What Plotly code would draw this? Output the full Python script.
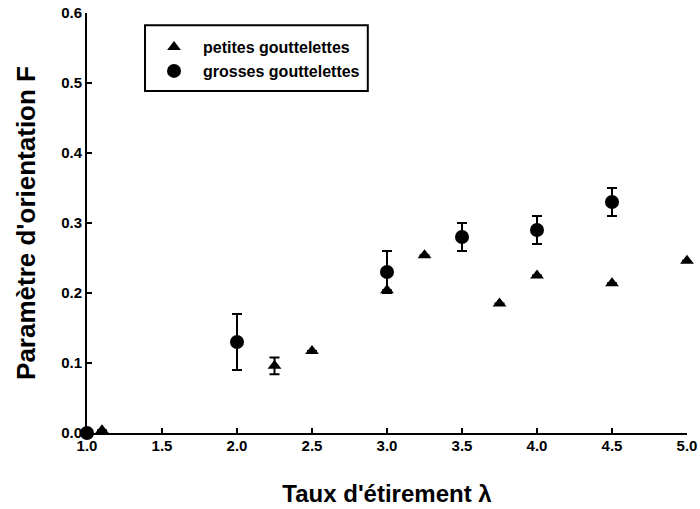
import plotly.graph_objects as go

# petites gouttelettes (triangles)
x_small = [1.1, 2.25, 2.5, 3.0, 3.25, 3.75, 4.0, 4.5, 5.0]
y_small = [0.004, 0.096, 0.117, 0.204, 0.254, 0.185, 0.225, 0.214, 0.246]
err_small = [0, 0.012, 0, 0, 0, 0, 0, 0, 0]

# grosses gouttelettes (circles)
x_big = [1.0, 2.0, 3.0, 3.5, 4.0, 4.5]
y_big = [0.0, 0.13, 0.23, 0.28, 0.29, 0.33]
err_big = [0, 0.04, 0.03, 0.02, 0.02, 0.02]

x_ticks = [1.0, 1.5, 2.0, 2.5, 3.0, 3.5, 4.0, 4.5, 5.0]
y_ticks = [0.0, 0.1, 0.2, 0.3, 0.4, 0.5, 0.6]

FONT = "Liberation Sans"

fig = go.Figure()
fig.add_trace(go.Scatter(
    x=x_small, y=y_small, mode="markers", name="petites gouttelettes",
    marker=dict(symbol="triangle-up", size=12, color="black"),
    error_y=dict(type="data", array=err_small, color="black", thickness=2, width=5),
    cliponaxis=False,
))
fig.add_trace(go.Scatter(
    x=x_big, y=y_big, mode="markers", name="grosses gouttelettes",
    marker=dict(symbol="circle", size=14, color="black"),
    error_y=dict(type="data", array=err_big, color="black", thickness=2, width=5),
    cliponaxis=False,
))

# legend frame
fig.add_shape(type="rect", xref="paper", yref="paper",
              x0=0.0967, x1=0.468, y0=0.814, y1=0.971,
              line=dict(color="black", width=2), fillcolor="rgba(0,0,0,0)")

fig.update_layout(
    width=700, height=509,
    margin=dict(l=87, r=13, t=13, b=76),
    plot_bgcolor="white", paper_bgcolor="white",
    font=dict(family=FONT, color="black"),
    showlegend=True,
    legend=dict(
        x=0.0967, y=0.959, xanchor="left", yanchor="top",
        borderwidth=0, bgcolor="rgba(0,0,0,0)",
        font=dict(family=FONT, size=16, weight="bold"),
        itemwidth=48, tracegroupgap=0,
    ),
    xaxis=dict(
        range=[1.0, 5.0], tickvals=x_ticks, ticktext=[f"{v:.1f}" for v in x_ticks],
        showgrid=False, zeroline=False, showline=True, linecolor="black", linewidth=2,
        ticks="inside", ticklen=5, tickwidth=1.5, tickcolor="black",
        tickfont=dict(family=FONT, size=15, weight="bold"),
        ticklabelstandoff=-2, automargin=False,
        title=dict(text="Taux d'étirement λ", font=dict(family=FONT, size=24, weight="bold"), standoff=32),
    ),
    yaxis=dict(
        range=[0.0, 0.6], tickvals=y_ticks, ticktext=[f"{v:.1f}" for v in y_ticks],
        showgrid=False, zeroline=False, showline=True, linecolor="black", linewidth=2,
        ticks="inside", ticklen=5, tickwidth=1.5, tickcolor="black",
        tickfont=dict(family=FONT, size=15, weight="bold"),
        automargin=False,
        title=dict(text="Paramètre d'orientation F", font=dict(family=FONT, size=26, weight="bold"), standoff=18),
    ),
)

fig.write_html("out.html", config={"displayModeBar": False},
               post_script="document.body.style.margin='0';")
